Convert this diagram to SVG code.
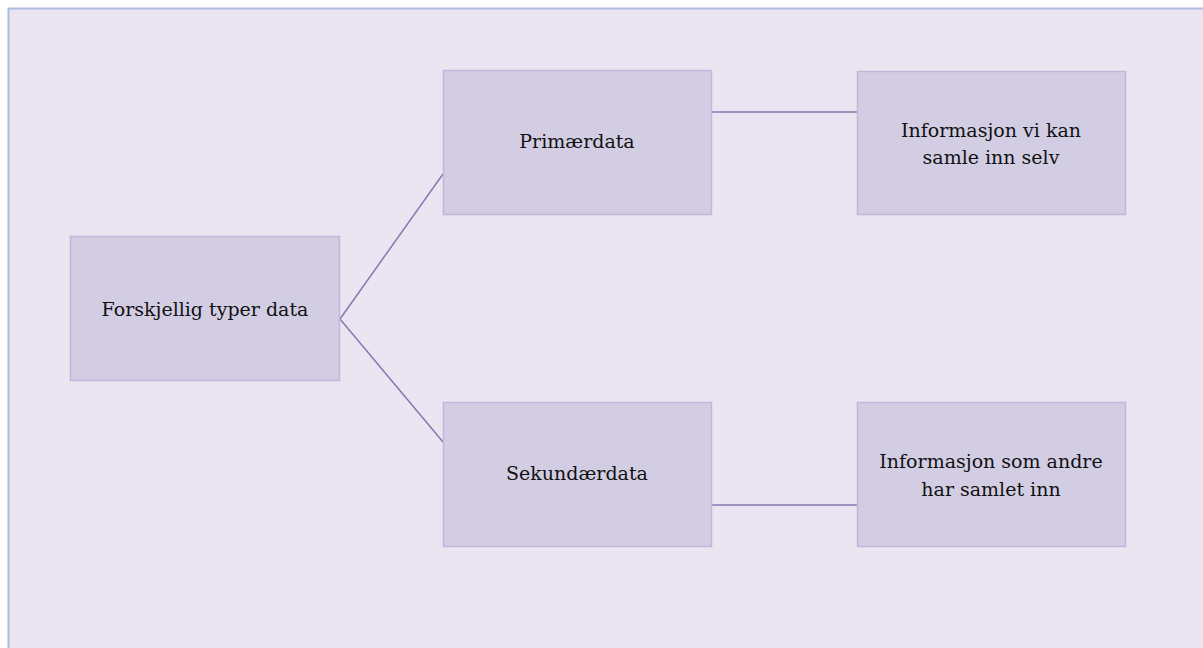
<svg xmlns="http://www.w3.org/2000/svg" width="1203" height="648" viewBox="0 0 1203 648">
<style>
.n rect{fill:#d3cde4;stroke:#c3b6da;stroke-width:1.5}
.n text{font-family:"DejaVu Serif","Liberation Serif",serif;font-size:19px;fill:#111;text-anchor:middle}
.c line{stroke:#8877b0;stroke-width:1.5;fill:none}
</style>
<rect x="0" y="0" width="1203" height="648" fill="#ffffff"/>
<rect x="8.5" y="8.5" width="1200" height="645" fill="#ebe5f1" stroke="#adbbe0" stroke-width="2"/>
<g class="c" id="connectors">
<line x1="340" y1="319" x2="443" y2="174"/>
<line x1="340" y1="319" x2="443" y2="442"/>
<line x1="712" y1="112" x2="857" y2="112"/>
<line x1="712" y1="505" x2="857" y2="505"/>
</g>
<g class="n" id="root"><rect x="70.5" y="236.5" width="269" height="144"/><text x="205" y="316">Forskjellig typer data</text></g>
<g class="n" id="primaer"><rect x="443.5" y="70.5" width="268" height="144"/><text x="577" y="148">Primærdata</text></g>
<g class="n" id="sekundaer"><rect x="443.5" y="402.5" width="268" height="144"/><text x="577" y="480">Sekundærdata</text></g>
<g class="n" id="info1"><rect x="857.5" y="71.5" width="268" height="143"/><text x="991" y="137">Informasjon vi kan</text><text x="991" y="164">samle inn selv</text></g>
<g class="n" id="info2"><rect x="857.5" y="402.5" width="268" height="144"/><text x="991" y="468">Informasjon som andre</text><text x="991" y="496">har samlet inn</text></g>
</svg>
